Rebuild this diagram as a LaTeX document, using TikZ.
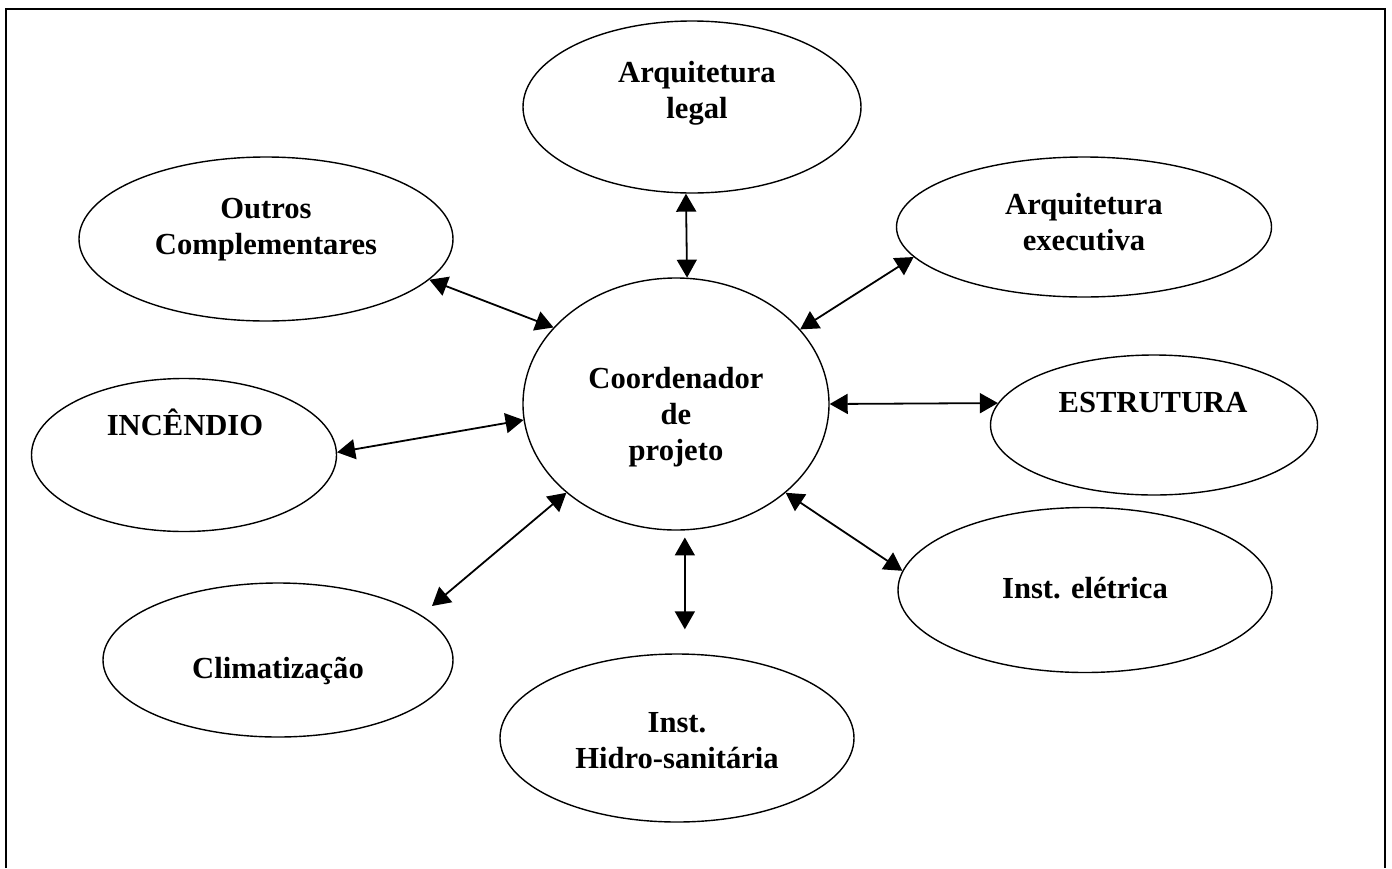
\documentclass[tikz,border=0pt]{standalone}
\usepackage{fontspec}
\setmainfont{Liberation Serif}
\usetikzlibrary{arrows.meta,shapes.geometric}
\begin{document}
\begin{tikzpicture}[x=1pt,y=-1pt,
  ell/.style={ellipse, draw, line width=1.4pt, inner sep=0pt},
  lbl/.style={font=\bfseries\fontsize{30.6}{36}\selectfont, align=center, inner sep=0pt, anchor=base},
  arr/.style={line width=1.8pt, {Triangle[length=18pt,width=20pt]}-{Triangle[length=18pt,width=20pt]}}]
\useasboundingbox (0,0) rectangle (1392,868);
\draw[line width=1.6pt] (5.7,868) -- (5.7,9) -- (1385,9) -- (1385,868);
% ellipses
\node[ell, minimum width=306pt, minimum height=252pt] (C) at (676,404) {};
\node[ell, minimum width=338pt, minimum height=172pt] (legal) at (692,107) {};
\node[ell, minimum width=374pt, minimum height=164pt] (outros) at (266,239) {};
\node[ell, minimum width=375pt, minimum height=140pt] (exec) at (1084,227) {};
\node[ell, minimum width=305pt, minimum height=153pt] (inc) at (184,455) {};
\node[ell, minimum width=327pt, minimum height=140pt] (estr) at (1154,425) {};
\node[ell, minimum width=350pt, minimum height=154pt] (clim) at (278,660) {};
\node[ell, minimum width=374pt, minimum height=165pt] (eletr) at (1085,590) {};
\node[ell, minimum width=354pt, minimum height=168pt] (hidro) at (677,738) {};
% labels (base = baseline of last line)
\node[lbl] (tC) at (676,460) {Coordenador\\de\\projeto};
\node[lbl] (tlegal) at (697,118) {Arquitetura\\legal};
\node[lbl] (toutros) at (266,254) {Outros\\Complementares};
\node[lbl] (texec) at (1084,250) {Arquitetura\\executiva};
\node[lbl] (tinc) at (185,435) {INCÊNDIO};
\node[lbl] (testr) at (1153,412) {ESTRUTURA};
\node[lbl] (tclim) at (278,678) {Climatização};
\node[lbl] (teletr) at (1085,598) {Inst. elétrica};
\node[lbl] (thidro) at (677,768) {Inst.\\Hidro-sanitária};
% connectors
\coordinate (climA) at (432,606);
\draw[arr] (legal.266) -- (C.85);
\draw[arr] (outros.346.7) -- (C.148.5);
\draw[arr] (exec.190.6) -- (C.31.5);
\draw[arr] (C.east) -- (estr.172.3);
\draw[arr] (inc.1) -- (C.186.3);
\draw[arr] (climA) -- (C.219.2);
\draw[arr, shorten <=7pt, shorten >=24pt] (C.274.7) -- (C.274.7 |- hidro.north);
\draw[arr] (C.321) -- (eletr.174.5);
\end{tikzpicture}
\end{document}
